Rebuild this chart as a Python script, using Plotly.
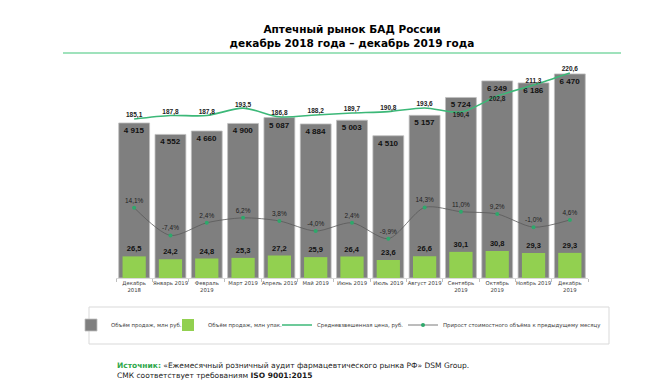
import plotly.graph_objects as go

months = ["Декабрь<br>2018", "Январь 2019", "Февраль<br>2019", "Март 2019", "Апрель 2019",
          "Май 2019", "Июнь 2019", "Июль 2019", "Август 2019", "Сентябрь<br>2019",
          "Октябрь<br>2019", "Ноябрь 2019", "Декабрь<br>2019"]
sales_rub = [4915, 4552, 4660, 4900, 5087, 4884, 5003, 4510, 5157, 5724, 6249, 6186, 6470]
sales_pack = [26.5, 24.2, 24.8, 25.3, 27.2, 25.9, 26.4, 23.6, 26.6, 30.1, 30.8, 29.3, 29.3]
avg_price = [185.1, 187.8, 187.8, 193.5, 186.8, 188.2, 189.7, 190.8, 193.6, 190.4, 202.8, 211.3, 220.6]
growth = [14.1, -7.4, 2.4, 6.2, 3.8, -4.0, 2.4, -9.9, 14.3, 11.0, 9.2, -1.0, 4.6]
price_label_pos = ["top center"] * 9 + ["bottom center", "bottom center", "top center", "top center"]

LBL = "Liberation Sans"
TXT = "DejaVu Sans"

fig = go.Figure()
fig.add_trace(go.Bar(
    x=months, y=sales_rub, name="Объём продаж, млн руб.", legend="legend",
    marker=dict(color="#7f7f7f", line=dict(color="#bfbfbf", width=0.8)),
    width=0.85, texttemplate="<b>%{y:,.0f}</b>", textposition="inside",
    insidetextanchor="end", textangle=0, constraintext="none",
    textfont=dict(family=LBL, size=8, color="#111111"), yaxis="y",
))
fig.add_trace(go.Bar(
    x=months, y=sales_pack, name="Объём продаж, млн упак.", legend="legend2",
    marker=dict(color="#92d050", line=dict(width=0)),
    width=0.64, texttemplate="<b>%{y:.1f}</b>", textposition="outside",
    textangle=0, constraintext="none", cliponaxis=False,
    textfont=dict(family=LBL, size=7.5, color="#111111"), yaxis="y2",
))
fig.add_trace(go.Scatter(
    x=months, y=avg_price, name="Средневзвешенная цена, руб.", legend="legend3",
    mode="lines+text", line=dict(color="#3cb878", width=1.6, shape="spline", smoothing=0.8),
    texttemplate="<b>%{y:.1f}</b>", textposition=price_label_pos, cliponaxis=False,
    textfont=dict(family=LBL, size=6.5, color="#222222"), yaxis="y3",
))
fig.add_trace(go.Scatter(
    x=months, y=growth, name="Прирост стоимостного объёма к предыдущему месяцу", legend="legend4",
    mode="lines+markers+text", line=dict(color="#595959", width=0.8, shape="spline", smoothing=0.8),
    marker=dict(color="#2ea86b", size=4),
    texttemplate="%{y:.1f}%", textposition="top center", cliponaxis=False,
    textfont=dict(family=LBL, size=6.5, color="#222222"), yaxis="y4",
))

PL, PW, PT, PH = 108, 472, 50, 220


def px_x(v):
    return (v - PL) / PW


def px_y(v):
    return (PT + PH - v) / PH


def leg(text_start):
    return dict(orientation="h", x=px_x(text_start - 48), xanchor="left", y=px_y(317), yanchor="middle",
                font=dict(family=TXT, size=5.4, color="#404040"), itemwidth=30,
                bgcolor="rgba(0,0,0,0)", borderwidth=0)


fig.update_layout(
    width=666, height=385,
    margin=dict(l=PL, r=666 - PL - PW, t=PT, b=385 - PT - PH),
    paper_bgcolor="white", plot_bgcolor="white",
    separators=", ",
    barmode="overlay",
    showlegend=True,
    title=dict(text="<b>Аптечный рынок БАД России<br>декабрь 2018 года – декабрь 2019 года</b>",
               x=0.5, xref="paper", xanchor="center", yref="container", y=1 - 25 / 385, yanchor="middle",
               font=dict(family=TXT, size=10.5, color="#000000")),
    xaxis=dict(type="category", range=[-0.5, 12.5], showline=True, linecolor="#d9d9d9", linewidth=1,
               ticks="outside", tickson="boundaries", ticklen=3, tickcolor="#bfbfbf", tickangle=0,
               tickfont=dict(family=TXT, size=5.3, color="#404040"), showgrid=False, fixedrange=True),
    yaxis=dict(range=[0, 6975], visible=False, showgrid=False),
    yaxis2=dict(range=[9.2, 185.2], overlaying="y", visible=False, showgrid=False),
    yaxis3=dict(range=[62.4, 232.2], overlaying="y", visible=False, showgrid=False),
    yaxis4=dict(range=[-40.4, 130.1], overlaying="y", visible=False, showgrid=False),
    legend=leg(111),
    legend2=leg(208),
    legend3=leg(317),
    legend4=leg(443),
    shapes=[
        dict(type="rect", xref="paper", yref="paper", x0=px_x(81), x1=px_x(601), y0=px_y(336), y1=px_y(299),
             line=dict(color="#d9d9d9", width=1), fillcolor="rgba(0,0,0,0)", layer="below"),
        dict(type="line", xref="paper", yref="paper", x0=px_x(55), x1=px_x(613), y0=px_y(45), y1=px_y(45),
             line=dict(color="#7fd8a6", width=1.5)),
    ],
    annotations=[
        dict(xref="paper", yref="paper", x=px_x(107), y=px_y(362.5), xanchor="left", yanchor="middle",
             align="left", showarrow=False,
             text="<b><span style='color:#2ea84a'>Источник:</span></b> «Ежемесячный розничный аудит фармацевтического рынка РФ» DSM Group.<br>"
                  "СМК соответствует требованиям <b>ISO 9001:2015</b>",
             font=dict(family=TXT, size=7.5, color="#1a1a1a")),
    ],
)

fig.write_html("out.html")
